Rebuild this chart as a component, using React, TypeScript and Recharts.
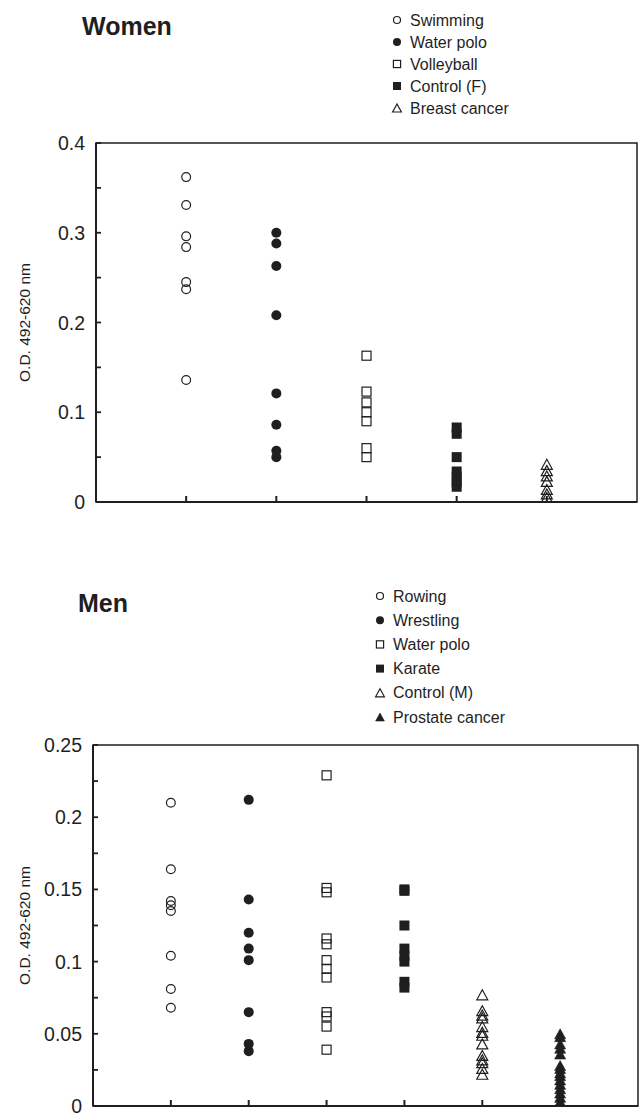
import { ScatterChart, Scatter, XAxis, YAxis, ReferenceArea, Label } from "recharts";

// ---- data ----
const WOMEN_GROUPS = ["Swimming", "Water polo", "Volleyball", "Control (F)", "Breast cancer"];
const WOMEN_SWIMMING = [0.362, 0.331, 0.296, 0.284, 0.245, 0.237, 0.136];
const WOMEN_WATER_POLO = [0.3, 0.288, 0.263, 0.208, 0.121, 0.086, 0.057, 0.05];
const WOMEN_VOLLEYBALL = [0.163, 0.123, 0.111, 0.1, 0.09, 0.06, 0.05];
const WOMEN_CONTROL = [0.083, 0.076, 0.05, 0.034, 0.028, 0.022, 0.017];
const WOMEN_BREAST_CANCER = [0.042, 0.035, 0.029, 0.023, 0.014, 0.009, 0.005];
const WOMEN_Y_TICKS = [0, 0.05, 0.1, 0.15, 0.2, 0.25, 0.3, 0.35, 0.4];
const WOMEN_Y_LABELS = ["0", "", "0.1", "", "0.2", "", "0.3", "", "0.4"];

const MEN_GROUPS = ["Rowing", "Wrestling", "Water polo", "Karate", "Control (M)", "Prostate cancer"];
const MEN_ROWING = [0.21, 0.164, 0.142, 0.139, 0.135, 0.104, 0.081, 0.068];
const MEN_WRESTLING = [0.212, 0.143, 0.12, 0.109, 0.101, 0.065, 0.043, 0.038];
const MEN_WATER_POLO = [0.229, 0.151, 0.148, 0.116, 0.112, 0.101, 0.095, 0.089, 0.065, 0.062, 0.055, 0.039];
const MEN_KARATE = [0.15, 0.149, 0.125, 0.109, 0.104, 0.1, 0.086, 0.082];
const MEN_CONTROL = [0.077, 0.066, 0.063, 0.061, 0.055, 0.051, 0.049, 0.043, 0.035, 0.032, 0.03, 0.026, 0.022];
const MEN_PROSTATE_CANCER = [0.05, 0.048, 0.043, 0.04, 0.036, 0.028, 0.026, 0.023, 0.021, 0.018, 0.015, 0.012, 0.009, 0.006, 0.003];
const MEN_Y_TICKS = [0, 0.025, 0.05, 0.075, 0.1, 0.125, 0.15, 0.175, 0.2, 0.225, 0.25];
const MEN_Y_LABELS = ["0", "", "0.05", "", "0.1", "", "0.15", "", "0.2", "", "0.25"];

const Y_TITLE = "O.D. 492-620 nm";

// ---- styling ----
const INK = "#1f1f1f";
const FONT = "'Liberation Sans', Arial, Helvetica, sans-serif";
type Kind = "circleOpen" | "circleFilled" | "squareOpen" | "squareFilled" | "triOpen" | "triFilled";
const WOMEN_MARKERS: Kind[] = ["circleOpen", "circleFilled", "squareOpen", "squareFilled", "triOpen"];
const MEN_MARKERS: Kind[] = ["circleOpen", "circleFilled", "squareOpen", "squareFilled", "triOpen", "triFilled"];

function Marker({ kind, cx, cy, s = 1 }: { kind: Kind; cx: number; cy: number; s?: number }) {
  const sw = 1.2;
  switch (kind) {
    case "circleOpen":
      return <circle cx={cx} cy={cy} r={4.4 * s} fill="none" stroke={INK} strokeWidth={sw} />;
    case "circleFilled":
      return <circle cx={cx} cy={cy} r={5 * s} fill={INK} />;
    case "squareOpen":
      return <rect x={cx - 4.5 * s} y={cy - 4.5 * s} width={9 * s} height={9 * s} fill="none" stroke={INK} strokeWidth={sw} />;
    case "squareFilled":
      return <rect x={cx - 5 * s} y={cy - 5 * s} width={10 * s} height={10 * s} fill={INK} />;
    case "triOpen": {
      const h = 5 * s;
      const w = 5.5 * s;
      return <polygon points={`${cx},${cy - h} ${cx + w},${cy + h} ${cx - w},${cy + h}`} fill="none" stroke={INK} strokeWidth={sw} />;
    }
    case "triFilled": {
      const h = 5 * s;
      const w = 5.5 * s;
      return <polygon points={`${cx},${cy - h} ${cx + w},${cy + h} ${cx - w},${cy + h}`} fill={INK} stroke={INK} strokeWidth={0.6} />;
    }
  }
  return null;
}

type PanelProps = {
  top: number;
  height: number;
  margin: { top: number; right: number; bottom: number; left: number };
  xAxisHeight: number;
  axisX: number;
  groups: string[];
  series: number[][];
  markers: Kind[];
  yTicks: number[];
  yLabels: string[];
};

function Panel({ top, height, margin, xAxisHeight, axisX, groups, series, markers, yTicks, yLabels }: PanelProps) {
  const xMax = groups.length + 1;
  const yMax = yTicks[yTicks.length - 1];
  const xTicks = groups.map((_, i) => i + 1);
  const axisY = height - margin.bottom - xAxisHeight;

  const yTick = (props: any) => {
    const { y, payload } = props;
    const label = yLabels[yTicks.indexOf(payload.value)] ?? "";
    return (
      <g>
        <line x1={axisX} x2={axisX + 5} y1={y} y2={y} stroke={INK} strokeWidth={1.8} />
        {label && (
          <text x={axisX - 11} y={y} dy="0.36em" textAnchor="end" fontSize={19.5} fill={INK} fontFamily={FONT}>
            {label}
          </text>
        )}
      </g>
    );
  };

  // inward tick marks on the category axis, no labels
  const xTick = (props: any) => (
    <line x1={props.x} x2={props.x} y1={axisY} y2={axisY - 6} stroke={INK} strokeWidth={2} />
  );

  return (
    <div style={{ position: "absolute", left: 0, top }}>
      <ScatterChart width={643} height={height} margin={margin} style={{ fontFamily: FONT }}>
        <ReferenceArea x1={0} x2={xMax} y1={0} y2={yMax} fill="none" stroke={INK} strokeWidth={1.5} ifOverflow="visible" />
        <XAxis
          type="number"
          dataKey="x"
          domain={[0, xMax]}
          ticks={xTicks}
          allowDataOverflow
          height={xAxisHeight}
          tick={xTick}
          tickLine={false}
          axisLine={{ stroke: INK, strokeWidth: 2 }}
        />
        <YAxis
          type="number"
          dataKey="y"
          domain={[0, yMax]}
          ticks={yTicks}
          allowDataOverflow
          width={axisX}
          tickSize={0}
          tickMargin={11}
          tickLine={false}
          tick={yTick}
          axisLine={{ stroke: INK, strokeWidth: 2 }}
        >
          <Label
            value={Y_TITLE}
            angle={-90}
            position="insideLeft"
            offset={24}
            style={{ textAnchor: "middle", fontSize: 15.5, fill: INK, fontFamily: FONT }}
          />
        </YAxis>
        {series.map((vals, i) => (
          <Scatter
            key={groups[i]}
            name={groups[i]}
            data={vals.map((v) => ({ x: i + 1, y: v }))}
            isAnimationActive={false}
            shape={(p: any) => <Marker kind={markers[i]} cx={p.cx} cy={p.cy} />}
          />
        ))}
      </ScatterChart>
    </div>
  );
}

function LegendBlock({ groups, markers, x, y0, step }: { groups: string[]; markers: Kind[]; x: number; y0: number; step: number }) {
  return (
    <g>
      {groups.map((g, i) => {
        const cy = y0 + i * step;
        return (
          <g key={g}>
            <Marker kind={markers[i]} cx={x} cy={cy} s={0.8} />
            <text x={x + 13} y={cy + 5.6} fontSize={16} fill={INK} fontFamily={FONT}>
              {g}
            </text>
          </g>
        );
      })}
    </g>
  );
}

export default function App() {
  return (
    <div style={{ position: "absolute", left: 0, top: 0, width: 643, height: 1117, background: "#fff", fontFamily: FONT }}>
      <Panel
        top={0}
        height={520}
        margin={{ top: 143, right: 6, bottom: 6, left: 0 }}
        xAxisHeight={12}
        axisX={96}
        groups={WOMEN_GROUPS}
        series={[WOMEN_SWIMMING, WOMEN_WATER_POLO, WOMEN_VOLLEYBALL, WOMEN_CONTROL, WOMEN_BREAST_CANCER]}
        markers={WOMEN_MARKERS}
        yTicks={WOMEN_Y_TICKS}
        yLabels={WOMEN_Y_LABELS}
      />
      <Panel
        top={560}
        height={557}
        margin={{ top: 185, right: 5, bottom: 1, left: 0 }}
        xAxisHeight={10}
        axisX={93}
        groups={MEN_GROUPS}
        series={[MEN_ROWING, MEN_WRESTLING, MEN_WATER_POLO, MEN_KARATE, MEN_CONTROL, MEN_PROSTATE_CANCER]}
        markers={MEN_MARKERS}
        yTicks={MEN_Y_TICKS}
        yLabels={MEN_Y_LABELS}
      />
      <svg width={643} height={1117} style={{ position: "absolute", left: 0, top: 0, pointerEvents: "none" }}>
        <text x={82} y={35} fontSize={25} fontWeight="bold" fill={INK} fontFamily={FONT}>
          Women
        </text>
        <text x={78} y={612} fontSize={25} fontWeight="bold" fill={INK} fontFamily={FONT}>
          Men
        </text>
        <LegendBlock groups={WOMEN_GROUPS} markers={WOMEN_MARKERS} x={397} y0={20} step={22} />
        <LegendBlock groups={MEN_GROUPS} markers={MEN_MARKERS} x={380} y0={596} step={24.2} />
      </svg>
    </div>
  );
}
